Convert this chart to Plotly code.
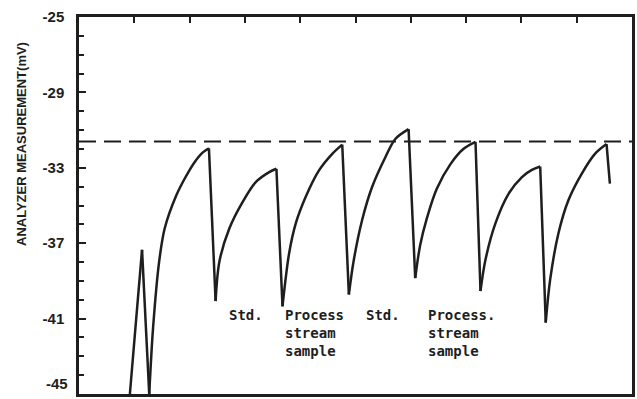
import plotly.graph_objects as go

# Analyzer trace (x in arbitrary time units, y in mV)
time = [0.92, 1.02, 1.14, 1.27, 1.34, 1.45, 1.55, 1.76, 1.91, 2.09, 2.24, 2.35,
        2.47, 2.54, 2.72, 2.96, 3.20, 3.44, 3.57,
        3.68, 3.80, 3.92, 4.10, 4.34, 4.58, 4.76,
        4.88, 4.97, 5.12, 5.30, 5.54, 5.72, 5.96,
        6.08, 6.17, 6.29, 6.47, 6.72, 6.95, 7.17,
        7.26, 7.35, 7.53, 7.77, 8.01, 8.19, 8.34,
        8.44, 8.52, 8.67, 8.85, 9.09, 9.33, 9.54, 9.60]
mv = [-45.0, -41.5, -37.35, -45.0, -41.47, -37.96, -36.21, -34.46, -33.58, -32.70, -32.18, -31.97,
      -40.07, -37.96, -36.21, -34.81, -33.75, -33.23, -33.05,
      -40.35, -37.53, -35.95, -34.54, -33.14, -32.26, -31.77,
      -39.72, -37.88, -35.77, -34.02, -32.44, -31.47, -30.95,
      -38.85, -37.09, -35.68, -34.11, -32.79, -32.00, -31.62,
      -39.54, -37.88, -35.95, -34.37, -33.49, -33.11, -32.93,
      -41.21, -38.93, -36.47, -34.72, -33.32, -32.26, -31.74, -33.84]

reference_level = -31.6

ytick_vals = [-45, -41, -37, -33, -29, -25]
ytick_text = ["-45", "-41", "-37", "-33", "-29", "-25"]

label_texts = ["Std.", "Process<br>stream<br>sample", "Std.", "Process.<br>stream<br>sample"]
label_x = [2.67, 3.68, 5.15, 6.27]
label_y = [-40.26, -40.26, -40.26, -40.26]

ink = "#1e1e1e"

# split the trace into rising runs (smooth) and falling runs (straight)
rise_x, rise_y, fall_x, fall_y = [], [], [], []
i = 0
n = len(time)
while i < n - 1:
    up = mv[i + 1] > mv[i]
    j = i
    while j < n - 1 and (mv[j + 1] > mv[j]) == up:
        j += 1
    tx, ty = (rise_x, rise_y) if up else (fall_x, fall_y)
    tx.extend(time[i:j + 1] + [None])
    ty.extend(mv[i:j + 1] + [None])
    i = j

fig = go.Figure()
fig.add_trace(go.Scatter(x=rise_x, y=rise_y, mode="lines", connectgaps=False,
                         line=dict(color=ink, width=2.5, shape="spline", smoothing=0.9),
                         showlegend=False, hoverinfo="skip"))
fig.add_trace(go.Scatter(x=fall_x, y=fall_y, mode="lines", connectgaps=False,
                         line=dict(color=ink, width=2.5),
                         showlegend=False, hoverinfo="skip"))

fig.add_shape(type="line", xref="x", yref="y", x0=0, x1=10,
              y0=reference_level, y1=reference_level,
              line=dict(color=ink, width=2, dash="17px,8px"))

for t, xx, yy in zip(label_texts, label_x, label_y):
    fig.add_annotation(x=xx, y=yy, text=t, showarrow=False, xanchor="left",
                       yanchor="top", align="left",
                       font=dict(family="DejaVu Sans Mono", size=14, color=ink, weight="bold"))

fig.add_annotation(xref="paper", yref="paper", x=-0.105, y=0.663,
                   text="ANALYZER MEASUREMENT(mV)", textangle=-90, showarrow=False,
                   xanchor="center", yanchor="middle",
                   font=dict(family="Arial", size=13, color=ink, weight="bold"))

# bottom tick label kept just inside the figure edge
fig.add_annotation(xref="paper", yref="y", x=0, y=ytick_vals[0], text=ytick_text[0],
                   showarrow=False, xanchor="right", yanchor="bottom", xshift=-9,
                   font=dict(family="Arial", size=15, color=ink, weight="bold"))

fig.update_layout(
    width=637, height=399,
    margin=dict(l=79, r=3, t=17, b=2),
    paper_bgcolor="white", plot_bgcolor="white",
    xaxis=dict(range=[0, 10], side="top", showline=True, mirror=True,
               linecolor=ink, linewidth=2.5, ticks="inside", tickvals=list(range(11)),
               ticklen=6, tickwidth=2, tickcolor=ink, showticklabels=False,
               showgrid=False, zeroline=False),
    yaxis=dict(range=[-45, -25], showline=True, mirror=True, linecolor=ink, linewidth=2.5,
               ticks="inside", tickvals=ytick_vals[1:], ticktext=ytick_text[1:], ticklen=7,
               tickwidth=2, tickcolor=ink, showgrid=False, zeroline=False,
               ticklabelstandoff=9,
               tickfont=dict(family="Arial", size=15, color=ink, weight="bold"),
               minor=dict(ticks="inside", dtick=1, tick0=-45, ticklen=5, tickwidth=2,
                          tickcolor=ink, showgrid=False)),
)

fig.write_html("out.html")
